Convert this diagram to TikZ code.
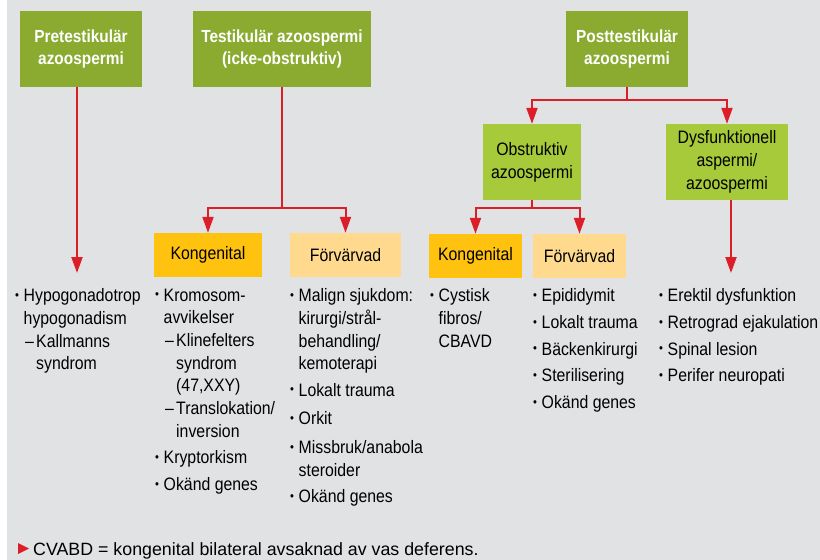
\documentclass[tikz,border=0pt]{standalone}
\usepackage{fontspec}
\setmainfont{Liberation Sans}
\newfontfamily\condfont{Liberation Sans}[FakeStretch=0.88]
\usetikzlibrary{arrows.meta}
\definecolor{bggray}{HTML}{E1E2E4}
\definecolor{darkgreen}{HTML}{8AAA30}
\definecolor{lightgreen}{HTML}{A6CA3A}
\definecolor{kongorange}{HTML}{FFC20E}
\definecolor{forvorange}{HTML}{FED98E}
\definecolor{arrowred}{HTML}{DC1E28}
\newcommand{\itembul}{\makebox[8.5pt][l]{\raisebox{2.2pt}{\scalebox{0.7}{•}}}}
\newcommand{\itemind}{\hspace*{8.5pt}}
\newcommand{\subdash}{\hspace*{10pt}\makebox[11pt][l]{–}}
\newcommand{\subind}{\hspace*{21pt}}

\begin{document}
\begin{tikzpicture}[x=1pt, y=-1pt, every node/.style={align=center, inner sep=0pt},
    headbox/.style={fill=darkgreen, text=white, minimum height=76pt,
      font=\condfont\bfseries\fontsize{17.5pt}{22pt}\selectfont},
    subbox/.style={fill=lightgreen, minimum height=76pt,
      font=\condfont\fontsize{18pt}{23pt}\selectfont},
    konbox/.style={fill=kongorange, minimum height=44pt,
      font=\condfont\fontsize{18pt}{22pt}\selectfont},
    forbox/.style={fill=forvorange, minimum height=44pt,
      font=\condfont\fontsize{18pt}{22pt}\selectfont},
    itemlist/.style={anchor=north west, align=left,
      font=\condfont\fontsize{18pt}{22.7pt}\selectfont},
    arr/.style={draw=arrowred, line width=2pt, -{Triangle[length=16pt, width=11pt]}}]
  \fill[bggray] (7,0) rectangle (820,560);
  \useasboundingbox (0,0) rectangle (820,560);

  \node[headbox, minimum width=122pt] (pre) at (81,49) {Pretestikulär\\azoospermi};
  \node[headbox, minimum width=178pt] (tes) at (282,49) {Testikulär azoospermi\\(icke-obstruktiv)};
  \node[headbox, minimum width=122pt] (post) at (627,49) {Posttestikulär\\azoospermi};
  \node[subbox, minimum width=98pt] (obs) at (532,162) {Obstruktiv\\azoospermi};
  \node[subbox, minimum width=122pt] (dys) at (727,162) {Dysfunktionell\\aspermi/\\azoospermi};
  \node[konbox, minimum width=108pt] (tkon) at (208,255) {Kongenital};
  \node[forbox, minimum width=111pt] (tfor) at (345.5,255) {Förvärvad};
  \node[konbox, minimum width=93pt] (okon) at (475.5,256) {Kongenital};
  \node[forbox, minimum width=93pt] (ofor) at (579.5,256) {Förvärvad};

  \path (tes.south) ++(0,121) coordinate (tsplit);
  \path (post.south) ++(0,13) coordinate (psplit);
  \path (obs.south) ++(0,8) coordinate (osplit);
  \coordinate (pretip) at (77,273);
  \coordinate (dystip) at (731,273);

  \draw[arr] (pre.south -| pretip) -- (pretip);
  \draw[arr] (tes.south) -- (tsplit) -| (tkon);
  \draw[arr] (tsplit) -| (tfor);
  \draw[arr] (post.south) -- (psplit) -| (obs);
  \draw[arr] (psplit) -| (dys);
  \draw[arr] (obs.south) -- (osplit) -| (okon);
  \draw[arr] (osplit) -| (ofor);
  \draw[arr] (dys.south -| dystip) -- (dystip);

  \node[itemlist] (preitems) at (15,288.5) {\itembul Hypogonadotrop\\
    \itemind hypogonadism\\ \subdash Kallmanns\\ \subind syndrom};
  \node[itemlist] (tkonitems) at (155,288.5) {\itembul Kromosom-\\
    \itemind avvikelser\\ \subdash Klinefelters\\ \subind syndrom\\
    \subind (47,XXY)\\ \subdash Translokation/\\ \subind inversion\\[4pt]
    \itembul Kryptorkism\\[4pt] \itembul Okänd genes};
  \node[itemlist] (tforitems) at (290,288.5) {\itembul Malign sjukdom:\\
    \itemind kirurgi/strål-\\ \itemind behandling/\\ \itemind kemoterapi\\[3.5pt]
    \itembul Lokalt trauma\\[6pt] \itembul Orkit\\[6pt]
    \itembul Missbruk/anabola\\ \itemind steroider\\[3.5pt] \itembul Okänd genes};
  \node[itemlist] (okonitems) at (430,288.5) {\itembul Cystisk\\
    \itemind fibros/\\ \itemind CBAVD};
  \node[itemlist] (oforitems) at (533,288.5) {\itembul Epididymit\\[4pt]
    \itembul Lokalt trauma\\[4pt] \itembul Bäckenkirurgi\\[4pt]
    \itembul Sterilisering\\[4pt] \itembul Okänd genes};
  \node[itemlist] (dysitems) at (659,288.5) {\itembul Erektil dysfunktion\\[4pt]
    \itembul Retrograd ejakulation\\[4pt] \itembul Spinal lesion\\[4pt]
    \itembul Perifer neuropati};

  \fill[arrowred] (18,543) -- (29,548.5) -- (18,554) -- cycle;
  \node[anchor=base west, font=\fontsize{17.8pt}{20pt}\selectfont] (note) at (33,555)
    {CVABD = kongenital bilateral avsaknad av vas deferens.};
\end{tikzpicture}
\end{document}
